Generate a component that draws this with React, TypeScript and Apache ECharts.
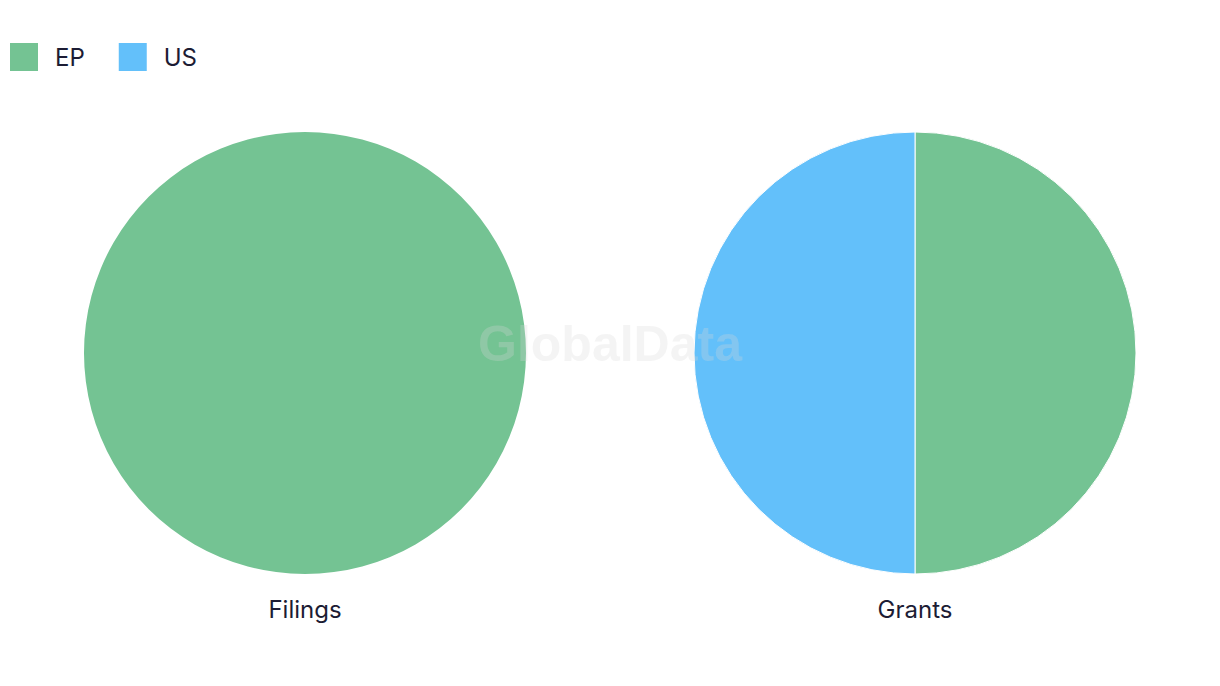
import React, { useEffect, useRef } from "react";
import * as echarts from "echarts";

const categories = ["EP", "US"];
const filingsValues = [1, 0];
const grantsValues = [1, 1];
const pieTitles = ["Filings", "Grants"];
const colors = ["#74C393", "#63C0FA"];

export default function App() {
  const ref = useRef<HTMLDivElement>(null);
  useEffect(() => {
    if (!ref.current) return;
    const chart = echarts.init(ref.current, null, { renderer: "svg" });
    const font = "Inter, 'Noto Sans', sans-serif";
    const mk = (vals: number[]) => categories.map((c, i) => ({ name: c, value: vals[i] }));
    chart.setOption({
      animation: false,
      color: colors,
      legend: {
        left: 5,
        top: 38,
        itemWidth: 28,
        itemHeight: 28,
        itemGap: 34,
        icon: "rect",
        data: categories,
        textStyle: { fontSize: 24, color: "#1c1c34", fontFamily: font, padding: [0, 0, 0, 12] },
      },
      series: [
        {
          type: "pie",
          center: [305, 353],
          radius: 221,
          startAngle: 90,
          label: { show: false },
          labelLine: { show: false },
          itemStyle: { borderWidth: 0 },
          emphasis: { disabled: true },
          data: mk(filingsValues),
        },
        {
          type: "pie",
          center: [915, 353],
          radius: 221,
          startAngle: 90,
          label: { show: false },
          labelLine: { show: false },
          itemStyle: { borderWidth: 1, borderColor: "#ffffff" },
          emphasis: { disabled: true },
          data: mk(grantsValues),
        },
      ],
      graphic: [
        {
          type: "text",
          x: 305,
          y: 609,
          style: { text: pieTitles[0], fill: "#1c1c34", font: `24px ${font}`, textAlign: "center", textVerticalAlign: "middle" },
        },
        {
          type: "text",
          x: 915,
          y: 609,
          style: { text: pieTitles[1], fill: "#1c1c34", font: `24px ${font}`, textAlign: "center", textVerticalAlign: "middle" },
        },
        {
          type: "text",
          x: 610,
          y: 344,
          z: 100,
          style: {
            text: "GlobalData",
            fill: "rgba(216,216,216,0.28)",
            font: `bold 50px 'Liberation Sans', Arial, sans-serif`,
            textAlign: "center",
            textVerticalAlign: "middle",
          },
        },
      ],
    });
    return () => chart.dispose();
  }, []);
  return (
    <div
      ref={ref}
      style={{ position: "fixed", left: 0, top: 0, width: 1220, height: 686, background: "#ffffff" }}
    />
  );
}
